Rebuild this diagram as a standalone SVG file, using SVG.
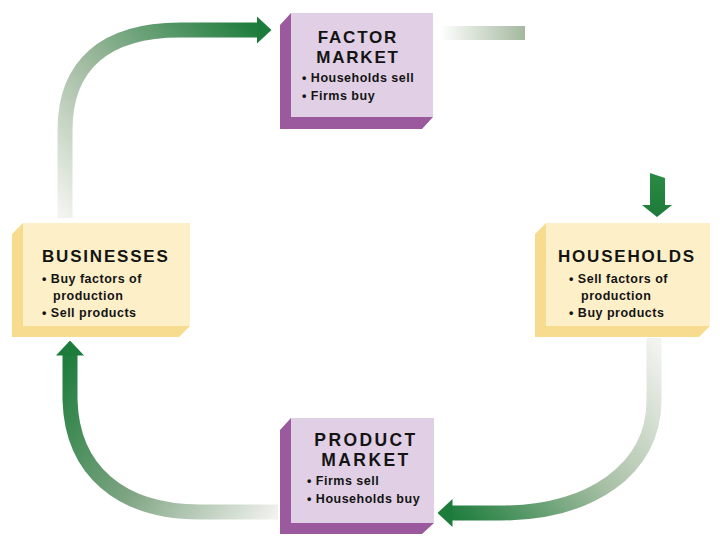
<svg xmlns="http://www.w3.org/2000/svg" width="720" height="540" viewBox="0 0 720 540">
  <style>
    .title { font-family: "Liberation Sans", Arial, sans-serif; font-weight: bold; font-size: 17px; letter-spacing: 1.8px; fill: #141414; }
    .ptitle { font-size: 17.5px; letter-spacing: 2.4px; }
    .bullet { font-family: "Liberation Sans", Arial, sans-serif; font-weight: bold; font-size: 12.5px; letter-spacing: 0.5px; fill: #141414; }
    .pface { fill: #e0cfe5; }
    .pside { fill: #9b5a9e; }
    .yface { fill: #fdf0c9; }
    .yside { fill: #f7db8f; }
    .flow { fill: none; stroke-width: 15; marker-end: url(#head); }
  </style>
  <defs>
    <marker id="head" viewBox="0 0 15 28" markerWidth="15" markerHeight="28" refX="0.5" refY="14" orient="auto" markerUnits="userSpaceOnUse">
      <path d="M0,0 L15,14 L0,28 Z" fill="#1d7c3b"/>
    </marker>
    <linearGradient id="g1" gradientUnits="userSpaceOnUse" x1="65" y1="218" x2="257" y2="30">
      <stop offset="0" stop-color="#f3f4f0"/>
      <stop offset="0.45" stop-color="#a3bca2"/>
      <stop offset="1" stop-color="#1f7d3d"/>
    </linearGradient>
    <linearGradient id="g2" gradientUnits="userSpaceOnUse" x1="440" y1="0" x2="525" y2="0">
      <stop offset="0" stop-color="#ffffff"/>
      <stop offset="1" stop-color="#a3b89e"/>
    </linearGradient>
    <linearGradient id="g3" gradientUnits="userSpaceOnUse" x1="654" y1="338" x2="452" y2="513">
      <stop offset="0" stop-color="#f3f4f0"/>
      <stop offset="0.5" stop-color="#a9c0a6"/>
      <stop offset="1" stop-color="#1f7d3d"/>
    </linearGradient>
    <linearGradient id="g4" gradientUnits="userSpaceOnUse" x1="278" y1="512" x2="70" y2="355">
      <stop offset="0" stop-color="#f1f2ee"/>
      <stop offset="0.5" stop-color="#7ea482"/>
      <stop offset="1" stop-color="#1f7d3d"/>
    </linearGradient>
    <linearGradient id="g5" gradientUnits="userSpaceOnUse" x1="0" y1="173" x2="0" y2="217">
      <stop offset="0" stop-color="#2b8a45"/>
      <stop offset="1" stop-color="#1d7a3a"/>
    </linearGradient>
  </defs>
  <rect width="720" height="540" fill="#ffffff"/>

  <g id="connectors">
    <path class="flow" stroke="url(#g1)" d="M65,218 L65,130 C65,65 105,30 180,30 L257,30"/>
    <rect x="440" y="26" width="85" height="14" fill="url(#g2)"/>
    <polygon points="650,173 665,178 665,205 672,205 657,217 642,205 650,205" fill="url(#g5)"/>
    <path class="flow" stroke="url(#g3)" d="M654,338 L654,400 C654,470 590,513 500,513 L452,513"/>
    <path class="flow" stroke="url(#g4)" d="M278,512 L200,512 C120,512 72,470 70,400 L70,355"/>
  </g>

  <g id="factor-market">
    <polygon class="pside" points="291,13 280,25 280,129 422,129 433,117 291,117"/>
    <rect class="pface" x="291" y="13" width="142" height="104"/>
    <text class="title" x="358" y="43" text-anchor="middle">FACTOR</text>
    <text class="title" x="358" y="63" text-anchor="middle">MARKET</text>
    <text class="bullet" x="302" y="82">• Households sell</text>
    <text class="bullet" x="302" y="100">• Firms buy</text>
  </g>

  <g id="businesses">
    <polygon class="yside" points="23,223 12,234 12,337 179,337 190,326 23,326"/>
    <rect class="yface" x="23" y="223" width="167" height="103"/>
    <text class="title" x="42" y="262">BUSINESSES</text>
    <text class="bullet" x="42" y="283">• Buy factors of</text>
    <text class="bullet" x="53" y="300">production</text>
    <text class="bullet" x="42" y="317">• Sell products</text>
  </g>

  <g id="households">
    <polygon class="yside" points="546,223 535,234 535,337 699,337 710,326 546,326"/>
    <rect class="yface" x="546" y="223" width="164" height="103"/>
    <text class="title" x="558" y="262">HOUSEHOLDS</text>
    <text class="bullet" x="569" y="283">• Sell factors of</text>
    <text class="bullet" x="581" y="300">production</text>
    <text class="bullet" x="569" y="317">• Buy products</text>
  </g>

  <g id="product-market">
    <polygon class="pside" points="291,418 280,430 280,534 422,534 434,523 291,523"/>
    <rect class="pface" x="291" y="418" width="143" height="105"/>
    <text class="title ptitle" x="366" y="446" text-anchor="middle">PRODUCT</text>
    <text class="title ptitle" x="366" y="466" text-anchor="middle">MARKET</text>
    <text class="bullet" x="307" y="485">• Firms sell</text>
    <text class="bullet" x="307" y="503">• Households buy</text>
  </g>
</svg>
